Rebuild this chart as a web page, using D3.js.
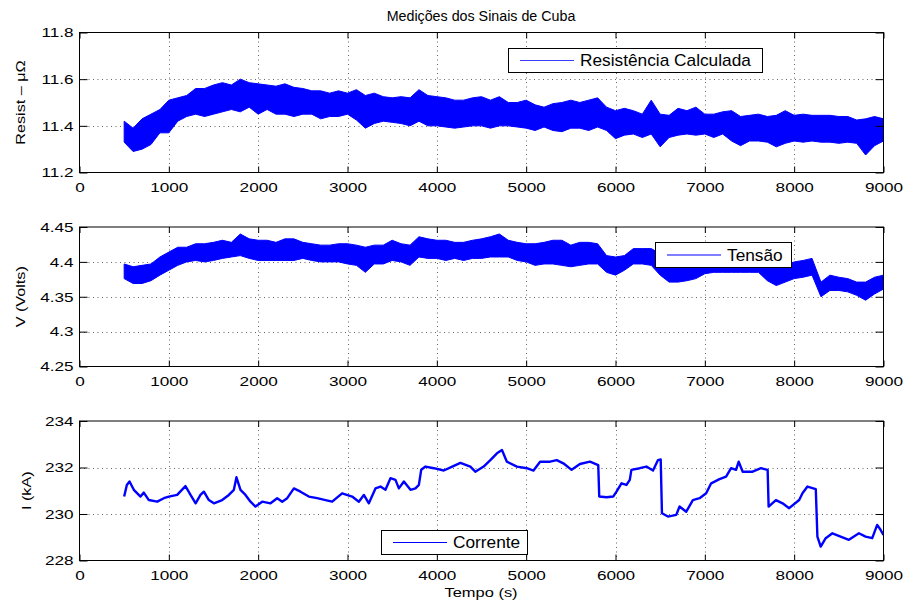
<!DOCTYPE html>
<html><head><meta charset="utf-8">
<script src="https://cdn.jsdelivr.net/npm/d3@7"></script>
<style>body{margin:0;background:#fff}svg{display:block}</style>
</head><body>
<svg id="chart" width="906" height="603"></svg>
<script>
// ---------------- DATA ----------------
const title = "Medições dos Sinais de Cuba";
const xLabel = "Tempo (s)";
const xTicks = [0,1000,2000,3000,4000,5000,6000,7000,8000,9000];

// sample times (s) for the noisy-band signals
const times = [
  500,600,700,800,900,1000,1100,1200,1300,1400,
  1500,1600,1700,1800,1900,2000,2100,2200,2300,2400,
  2500,2600,2700,2800,2900,3000,3100,3200,3300,3400,
  3500,3600,3700,3800,3900,4000,4100,4200,4300,4400,
  4500,4600,4700,4800,4900,5000,5100,5200,5300,5400,
  5500,5600,5700,5800,5900,6000,6100,6200,6300,6400,
  6500,6600,6700,6800,6900,7000,7100,7200,7300,7400,
  7500,7600,7700,7800,7900,8000,8100,8200,8300,8400,
  8500,8600,8700,8800,8900,9000];

// Resistência Calculada (µΩ): upper / lower edge of the noise band
const resHigh = [
  11.42,11.39,11.43,11.45,11.47,11.51,11.52,11.53,11.56,11.56,
  11.575,11.585,11.575,11.60,11.585,11.58,11.575,11.57,11.58,11.565,
  11.56,11.55,11.55,11.54,11.55,11.54,11.555,11.53,11.54,11.525,
  11.52,11.525,11.52,11.555,11.53,11.525,11.52,11.51,11.51,11.52,
  11.525,11.51,11.525,11.50,11.50,11.51,11.49,11.48,11.495,11.50,
  11.51,11.50,11.51,11.52,11.48,11.465,11.475,11.465,11.45,11.51,
  11.45,11.445,11.475,11.465,11.48,11.45,11.45,11.46,11.465,11.44,
  11.445,11.45,11.44,11.445,11.465,11.445,11.45,11.445,11.445,11.445,
  11.44,11.44,11.425,11.43,11.44,11.43];
const resLow = [
  11.33,11.29,11.30,11.32,11.37,11.37,11.42,11.44,11.45,11.44,
  11.45,11.46,11.47,11.46,11.48,11.45,11.47,11.45,11.45,11.44,
  11.45,11.45,11.43,11.44,11.44,11.45,11.425,11.39,11.41,11.42,
  11.415,11.41,11.40,11.42,11.40,11.40,11.395,11.39,11.395,11.40,
  11.40,11.39,11.40,11.40,11.395,11.39,11.38,11.395,11.38,11.375,
  11.39,11.39,11.38,11.395,11.38,11.345,11.36,11.365,11.35,11.365,
  11.31,11.35,11.36,11.365,11.36,11.365,11.35,11.365,11.335,11.315,
  11.335,11.335,11.33,11.31,11.325,11.335,11.33,11.335,11.33,11.33,
  11.325,11.33,11.325,11.275,11.315,11.335];

// Tensão (V): upper / lower edge of the noise band
const voltHigh = [
  4.397,4.393,4.395,4.397,4.407,4.414,4.421,4.421,4.426,4.426,
  4.428,4.431,4.428,4.440,4.433,4.431,4.431,4.428,4.433,4.433,
  4.428,4.426,4.424,4.424,4.426,4.426,4.424,4.421,4.424,4.424,
  4.431,4.426,4.424,4.436,4.433,4.431,4.431,4.428,4.428,4.431,
  4.433,4.436,4.440,4.431,4.428,4.426,4.426,4.428,4.431,4.431,
  4.424,4.428,4.428,4.426,4.409,4.407,4.409,4.419,4.419,4.419,
  4.412,4.393,4.395,4.395,4.397,4.397,4.395,4.397,4.397,4.397,
  4.397,4.397,4.397,4.395,4.395,4.400,4.402,4.405,4.371,4.381,
  4.378,4.376,4.371,4.371,4.378,4.381];
const voltLow = [
  4.376,4.369,4.369,4.373,4.381,4.388,4.395,4.400,4.402,4.400,
  4.402,4.405,4.407,4.409,4.405,4.402,4.402,4.402,4.402,4.402,
  4.405,4.402,4.400,4.400,4.400,4.397,4.395,4.385,4.397,4.397,
  4.402,4.400,4.395,4.407,4.405,4.405,4.402,4.405,4.402,4.405,
  4.405,4.407,4.407,4.407,4.402,4.400,4.395,4.397,4.397,4.395,
  4.393,4.395,4.397,4.397,4.385,4.381,4.388,4.397,4.397,4.395,
  4.381,4.371,4.371,4.373,4.376,4.383,4.385,4.385,4.385,4.385,
  4.385,4.385,4.373,4.366,4.371,4.376,4.378,4.381,4.350,4.359,
  4.359,4.357,4.352,4.345,4.354,4.361];

// Corrente (kA)
const curTimes = [
  500,530,560,608,683,720,776,870,944,1000,1093,1186,1243,1300,1354,1392,1448,1504,1597,1672,
  1728,1757,1802,1858,1914,1970,2045,2138,2213,2269,2325,2400,2474,2567,2660,2754,2828,2940,3052,3127,
  3183,3239,3313,3369,3425,3481,3537,3575,3631,3705,3761,3799,3825,3873,3966,4078,4172,4264,4375,4431,
  4524,4599,4673,4729,4784,4896,5007,5082,5156,5268,5342,5416,5509,5602,5714,5807,5818,5900,5974,6011,
  6067,6123,6160,6178,6271,6346,6420,6476,6506,6520,6587,6680,6717,6792,6866,6941,7015,7071,7164,7238,
  7294,7349,7379,7424,7535,7628,7703,7714,7796,7870,7944,8056,8093,8149,8242,8260,8297,8353,8428,8520,
  8613,8725,8799,8874,8929,8967,9000];
const curValues = [
  230.75,231.25,231.4,231.04,230.75,230.92,230.6,230.53,230.68,230.75,230.82,231.2,230.82,230.46,230.82,230.96,230.6,230.46,230.6,230.82,
  231.04,231.58,231.04,230.82,230.53,230.32,230.53,230.46,230.68,230.53,230.68,231.1,230.96,230.75,230.68,230.6,230.53,230.89,230.75,230.53,
  230.82,230.46,231.1,231.18,231.04,231.54,231.47,231.1,231.4,231.04,231.1,231.25,231.9,232.04,231.97,231.87,232.04,232.2,232.04,231.82,
  232.04,232.32,232.61,232.75,232.25,232.04,231.97,231.87,232.25,232.25,232.32,232.18,231.9,232.15,232.25,232.1,230.75,230.72,230.75,230.96,
  231.32,231.25,231.47,231.9,231.97,232.04,231.87,232.32,232.35,230.03,229.89,229.96,230.32,230.1,230.6,230.68,230.89,231.32,231.5,231.61,
  231.97,231.9,232.25,231.82,231.82,231.97,231.9,230.32,230.6,230.46,230.25,230.6,230.89,231.18,231.07,229.03,228.6,228.96,229.17,229.03,
  228.89,229.17,229.03,228.96,229.53,229.32,229.1];

const resTicks = [11.2,11.4,11.6,11.8], resTickLabels = ["11.2","11.4","11.6","11.8"];
const voltTicks = [4.25,4.3,4.35,4.4,4.45], voltTickLabels = ["4.25","4.3","4.35","4.4","4.45"];
const curTicks = [228,230,232,234], curTickLabels = ["228","230","232","234"];

// ---------------- LAYOUT ----------------
const FONT = "'Liberation Sans', Arial, Helvetica, sans-serif";
const BLUE = "#0000ff";
const svg = d3.select("#chart");
const x = d3.scaleLinear().domain([0, 9000]).range([79.5, 883.5]);

const panels = [
  {top: 32.5, bottom: 172.5, domain: [11.2, 11.8], ticks: resTicks, labels: resTickLabels,
   ylabel: "Resist – μΩ", ylx: 20, kind: "band", hi: resHigh, lo: resLow,
   legend: {x0: 508.5, y0: 48.5, x1: 762.5, y1: 72.5, text: "Resistência Calculada", color: "#3c3cff", w: 1.2}},
  {top: 227, bottom: 366.5, domain: [4.25, 4.45], ticks: voltTicks, labels: voltTickLabels,
   ylabel: "V (Volts)", ylx: 20, kind: "band", hi: voltHigh, lo: voltLow,
   legend: {x0: 655.5, y0: 242.5, x1: 791.5, y1: 267.5, text: "Tensão", color: "#7f7fff", w: 2}},
  {top: 421, bottom: 560.5, domain: [228, 234], ticks: curTicks, labels: curTickLabels,
   ylabel: "I (kA)", ylx: 26, kind: "line",
   legend: {x0: 381.5, y0: 530.5, x1: 527.5, y1: 554.5, text: "Corrente", color: BLUE, w: 1}}
];

const SX = 1.27; // horizontal stretch of the tick-label font

panels.forEach((p, pi) => {
  const y = d3.scaleLinear().domain(p.domain).range([p.bottom, p.top]);
  const g = svg.append("g");
  const clipId = "clip" + pi;
  svg.append("clipPath").attr("id", clipId).append("rect")
    .attr("x", x(0)).attr("y", p.top).attr("width", x(9000) - x(0)).attr("height", p.bottom - p.top);

  // grid
  const grid = g.append("g").attr("stroke", "#333").attr("stroke-width", 1)
    .attr("stroke-dasharray", "1,3.5").attr("opacity", 0.75);
  xTicks.filter(t => t > 0 && t < 9000).forEach(t => {
    grid.append("line").attr("x1", Math.round(x(t)) + 0.5).attr("x2", Math.round(x(t)) + 0.5)
      .attr("y1", p.top).attr("y2", p.bottom);
  });
  p.ticks.slice(1, -1).forEach(v => {
    grid.append("line").attr("x1", x(0)).attr("x2", x(9000))
      .attr("y1", Math.round(y(v)) + 0.5).attr("y2", Math.round(y(v)) + 0.5);
  });

  // data
  const dg = g.append("g").attr("clip-path", `url(#${clipId})`);
  if (p.kind === "band") {
    const rows = times.map((t, i) => ({t, hi: p.hi[i], lo: p.lo[i]}));
    const area = d3.area().x(d => x(d.t)).y0(d => y(d.lo)).y1(d => y(d.hi));
    dg.append("path").datum(rows).attr("d", area)
      .attr("fill", BLUE).attr("stroke", BLUE).attr("stroke-width", 1).attr("stroke-linejoin", "round");
  } else {
    const rows = curTimes.map((t, i) => ({t, v: curValues[i]}));
    const line = d3.line().x(d => x(d.t)).y(d => y(d.v));
    dg.append("path").datum(rows).attr("d", line)
      .attr("fill", "none").attr("stroke", BLUE).attr("stroke-width", 2.4).attr("stroke-linejoin", "round");
  }

  // axes (ticks inward on all four sides)
  const fmt = (d) => p.labels[p.ticks.indexOf(d)];
  const bottom = g.append("g").attr("transform", `translate(0,${p.bottom})`)
    .call(d3.axisBottom(x).tickValues(xTicks).tickFormat(d3.format("d")).tickSizeInner(-6).tickSizeOuter(0).tickPadding(10));
  const top = g.append("g").attr("transform", `translate(0,${p.top})`)
    .call(d3.axisTop(x).tickValues(xTicks).tickFormat("").tickSizeInner(-6).tickSizeOuter(0));
  const left = g.append("g").attr("transform", `translate(${x(0)},0)`)
    .call(d3.axisLeft(y).tickValues(p.ticks).tickFormat(fmt).tickSizeInner(-8).tickSizeOuter(0).tickPadding(6 / SX));
  const right = g.append("g").attr("transform", `translate(${x(9000)},0)`)
    .call(d3.axisRight(y).tickValues(p.ticks).tickFormat("").tickSizeInner(-8).tickSizeOuter(0));
  [bottom, top, left, right].forEach(a => {
    a.select(".domain").remove();
    a.selectAll("line").attr("stroke", "#000");
    a.selectAll("text").attr("font-family", FONT).attr("font-size", 13.5).attr("fill", "#000")
      .attr("transform", `scale(${SX},1)`);
  });

  // frame
  g.append("rect").attr("x", x(0)).attr("y", p.top).attr("width", x(9000) - x(0)).attr("height", p.bottom - p.top)
    .attr("fill", "none").attr("stroke", "#000").attr("stroke-width", 1);

  // y label
  g.append("text").attr("font-family", FONT).attr("font-size", 13.5).attr("text-anchor", "middle")
    .attr("transform", `translate(${p.ylx},${(p.top + p.bottom) / 2}) rotate(-90) scale(1.2,1)`)
    .attr("dy", "0.36em").text(p.ylabel);

  // legend
  const L = p.legend;
  const lg = g.append("g");
  lg.append("rect").attr("x", L.x0).attr("y", L.y0).attr("width", L.x1 - L.x0).attr("height", L.y1 - L.y0)
    .attr("fill", "#fff").attr("stroke", "#000").attr("stroke-width", 1);
  const ly = (L.y0 + L.y1) / 2;
  lg.append("line").attr("x1", L.x0 + 11.5).attr("x2", L.x0 + 65.5).attr("y1", ly).attr("y2", ly)
    .attr("stroke", L.color).attr("stroke-width", L.w);
  lg.append("text").attr("font-family", FONT).attr("font-size", 16)
    .attr("transform", `translate(${L.x0 + 71.5},${ly}) scale(1.08,1)`).attr("dy", "0.36em").text(L.text);
});

// title & x label
svg.append("text").attr("font-family", FONT).attr("font-size", 14).attr("text-anchor", "middle")
  .attr("transform", "translate(481,21) scale(1.02,1)").text(title);
svg.append("text").attr("font-family", FONT).attr("font-size", 13.5).attr("text-anchor", "middle")
  .attr("transform", "translate(481,597) scale(1.22,1)").text(xLabel);
</script>
</body></html>
